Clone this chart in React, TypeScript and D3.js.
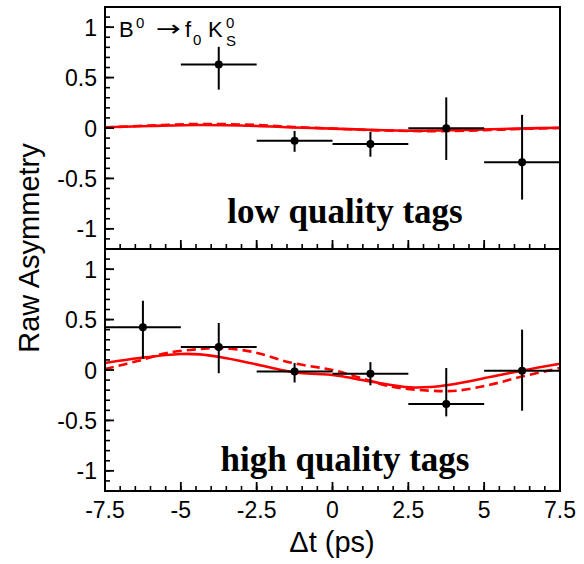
import React from "react";
import * as d3 from "d3";

// ── data ────────────────────────────────────────────────────────────────────
const BIN_HALF = 1.25;

// low quality tags (top panel) — no point in the first bin
const LOW_T  = [-3.75, -1.25, 1.25, 3.75, 6.25];
const LOW_A  = [0.63, -0.126, -0.159, -0.003, -0.34];
const LOW_UP = [0.175, 0.096, 0.122, 0.307, 0.47];
const LOW_DN = [0.25, 0.11, 0.126, 0.314, 0.37];

// high quality tags (bottom panel)
const HIGH_T  = [-6.25, -3.75, -1.25, 1.25, 3.75, 6.25];
const HIGH_A  = [0.423, 0.228, -0.014, -0.037, -0.337, -0.007];
const HIGH_UP = [0.264, 0.238, 0.083, 0.115, 0.357, 0.407];
const HIGH_DN = [0.31, 0.26, 0.11, 0.115, 0.123, 0.397];

// fit curves (solid / dashed), sampled by eye
const LOW_SOLID_T = [-7.5, -6, -4.4, -2.5, -1.3, 0, 1.2, 2.6, 4, 5.2, 6.4, 7.5];
const LOW_SOLID_A = [0.007, 0.02, 0.03, 0.02, 0.005, -0.006, -0.018, -0.027, -0.022, -0.013, -0.004, 0.003];
const LOW_DASH_T  = [-7.5, -6, -4.4, -2.5, -1.3, 0, 1.2, 2.6, 4, 5.2, 6.4, 7.5];
const LOW_DASH_A  = [0.005, 0.025, 0.04, 0.03, 0.01, -0.005, -0.02, -0.03, -0.03, -0.02, -0.008, 0.0];

const HIGH_SOLID_T = [-7.5, -6.35, -5.03, -4.37, -3.71, -2.72, -1.73, -1.07, -0.08, 0.25, 1.24, 2.56, 3.22, 3.87, 5.19, 6.28, 7.5];
const HIGH_SOLID_A = [0.07, 0.119, 0.159, 0.155, 0.129, 0.07, 0.003, -0.03, -0.047, -0.06, -0.113, -0.172, -0.169, -0.146, -0.07, -0.004, 0.062];
const HIGH_DASH_T  = [-7.5, -6.35, -5.47, -4.37, -3.71, -2.62, -1.4, 0.0, 0.58, 1.9, 3.22, 4.1, 5.19, 6.28, 7.5];
const HIGH_DASH_A  = [0.01, 0.095, 0.169, 0.208, 0.218, 0.179, 0.075, 0.0, -0.047, -0.163, -0.205, -0.205, -0.146, -0.063, 0.02];

const X_MAJOR = [-7.5, -5, -2.5, 0, 2.5, 5, 7.5];
const X_LABELS = ["-7.5", "-5", "-2.5", "0", "2.5", "5", "7.5"];
const Y_MAJOR = [-1, -0.5, 0, 0.5, 1];
const Y_LABELS = ["-1", "-0.5", "0", "0.5", "1"];

// ── layout ──────────────────────────────────────────────────────────────────
const W = 584;
const H = 564;
const X0 = 105, X1 = 560;
const TOP = 7, MID = 249, BOT = 491;

const SANS = "'Liberation Sans', Arial, Helvetica, sans-serif";
const SERIF = "'Liberation Serif', 'Times New Roman', serif";
const RED = "#ff0000";

const xScale = d3.scaleLinear().domain([-7.5, 7.5]).range([X0, X1]);
const xMinor = d3.range(-7.5, 7.5001, 0.5);
const yMinor = d3.range(-12, 13).map(v => v / 10);

type PanelProps = {
  y0: number; y1: number; clipId: string;
  t: number[]; a: number[]; up: number[]; dn: number[];
  solidT: number[]; solidA: number[]; dashT: number[]; dashA: number[];
  label: string; labelY: number;
};

function Panel(p: PanelProps) {
  const yScale = d3.scaleLinear().domain([-1.2, 1.2]).range([p.y1, p.y0]);
  const mk = (ts: number[], as: number[]) =>
    d3.line<number>()
      .x(i => xScale(ts[i]))
      .y(i => yScale(as[i]))
      .curve(d3.curveCatmullRom.alpha(0.5))(d3.range(ts.length)) || "";

  return (
    <g>
      <defs>
        <clipPath id={p.clipId}>
          <rect x={X0} y={p.y0} width={X1 - X0} height={p.y1 - p.y0} />
        </clipPath>
      </defs>

      {/* fit curves */}
      <g clipPath={`url(#${p.clipId})`}>
        <path d={mk(p.dashT, p.dashA)} fill="none" stroke={RED} strokeWidth={2.6} strokeDasharray="9,5" />
        <path d={mk(p.solidT, p.solidA)} fill="none" stroke={RED} strokeWidth={2.6} />
      </g>

      {/* data points */}
      <g clipPath={`url(#${p.clipId})`}>
        {p.t.map((t, i) => (
          <g key={i}>
            <line x1={xScale(t - BIN_HALF)} x2={xScale(t + BIN_HALF)} y1={yScale(p.a[i])} y2={yScale(p.a[i])}
              stroke="#000" strokeWidth={2} />
            <line x1={xScale(t)} x2={xScale(t)} y1={yScale(p.a[i] + p.up[i])} y2={yScale(p.a[i] - p.dn[i])}
              stroke="#000" strokeWidth={2} />
            <circle cx={xScale(t)} cy={yScale(p.a[i])} r={4} fill="#000" />
          </g>
        ))}
      </g>

      {/* y ticks */}
      {yMinor.map((v, i) => (
        <line key={"ym" + i} x1={X0} x2={X0 + 5} y1={yScale(v)} y2={yScale(v)} stroke="#000" strokeWidth={1.6} />
      ))}
      {Y_MAJOR.map((v, i) => (
        <g key={"yM" + i}>
          <line x1={X0} x2={X0 + 9} y1={yScale(v)} y2={yScale(v)} stroke="#000" strokeWidth={1.8} />
          <text x={97} y={yScale(v) + 8.5} textAnchor="end" fontFamily={SANS} fontSize={23} fill="#000">
            {Y_LABELS[i]}
          </text>
        </g>
      ))}

      {/* x ticks along the bottom edge */}
      {xMinor.map((v, i) => (
        <line key={"xm" + i} x1={xScale(v)} x2={xScale(v)} y1={p.y1} y2={p.y1 - 5} stroke="#000" strokeWidth={1.6} />
      ))}
      {X_MAJOR.map((v, i) => (
        <line key={"xM" + i} x1={xScale(v)} x2={xScale(v)} y1={p.y1} y2={p.y1 - 9} stroke="#000" strokeWidth={1.8} />
      ))}

      <text x={345} y={p.labelY} textAnchor="middle" fontFamily={SERIF} fontWeight="bold" fontSize={35} fill="#000">
        {p.label}
      </text>
    </g>
  );
}

export default function App() {
  return (
    <svg width={W} height={H} viewBox={`0 0 ${W} ${H}`}
      style={{ position: "absolute", left: 0, top: 0, background: "#fff" }}>
      <rect width={W} height={H} fill="#fff" />

      <Panel y0={TOP} y1={MID} clipId="clip-low"
        t={LOW_T} a={LOW_A} up={LOW_UP} dn={LOW_DN}
        solidT={LOW_SOLID_T} solidA={LOW_SOLID_A} dashT={LOW_DASH_T} dashA={LOW_DASH_A}
        label="low quality tags" labelY={223} />
      <Panel y0={MID} y1={BOT} clipId="clip-high"
        t={HIGH_T} a={HIGH_A} up={HIGH_UP} dn={HIGH_DN}
        solidT={HIGH_SOLID_T} solidA={HIGH_SOLID_A} dashT={HIGH_DASH_T} dashA={HIGH_DASH_A}
        label="high quality tags" labelY={471} />

      {/* frames */}
      <rect x={X0} y={TOP} width={X1 - X0} height={MID - TOP} fill="none" stroke="#000" strokeWidth={2} />
      <rect x={X0} y={MID} width={X1 - X0} height={BOT - MID} fill="none" stroke="#000" strokeWidth={2} />

      {/* x tick labels */}
      {X_MAJOR.map((v, i) => (
        <text key={i} x={xScale(v)} y={518} textAnchor="middle" fontFamily={SANS} fontSize={23} fill="#000">
          {X_LABELS[i]}
        </text>
      ))}

      {/* axis titles */}
      <text x={332} y={552} textAnchor="middle" fontFamily={SANS} fontSize={29} fill="#000">Δt (ps)</text>
      <text transform="translate(39,248) rotate(-90)" textAnchor="middle" fontFamily={SANS} fontSize={29} fill="#000">
        Raw Asymmetry
      </text>

      {/* decay label */}
      <g fontFamily={SANS} fill="#000">
        <text x={119} y={37} fontSize={22}>B</text>
        <text x={136} y={28} fontSize={15}>0</text>
        <text x={156} y={36} fontSize={22} fontFamily="'DejaVu Sans', sans-serif"
          textLength={25} lengthAdjust="spacingAndGlyphs">→</text>
        <text x={185} y={37} fontSize={22}>f</text>
        <text x={193} y={45} fontSize={15}>0</text>
        <text x={208} y={37} fontSize={22}>K</text>
        <text x={226} y={28} fontSize={15}>0</text>
        <text x={226} y={46} fontSize={15}>S</text>
      </g>
    </svg>
  );
}
